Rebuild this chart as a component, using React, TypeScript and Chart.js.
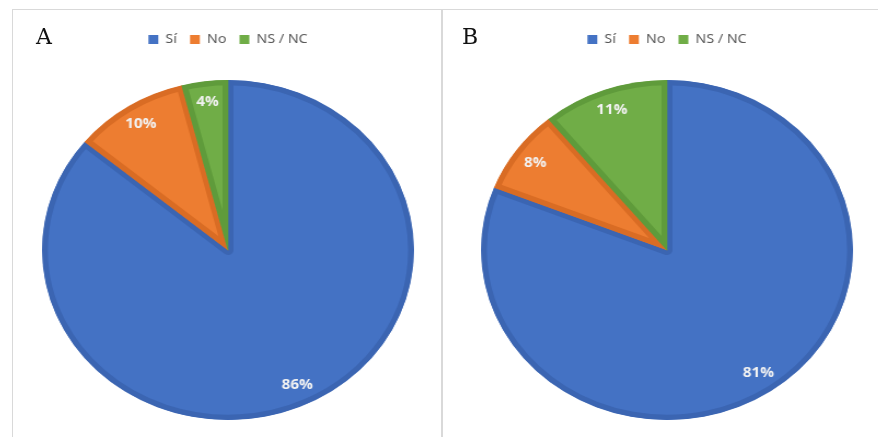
import React, { useEffect, useRef } from "react";
import { Chart, registerables } from "chart.js";

Chart.register(...registerables);

const categories = ["Sí", "No", "NS / NC"];
const valuesA = [86, 10, 4];
const valuesB = [81, 8, 11];
const panelLetters = ["A", "B"];
const fillColors = ["#4472C4", "#ED7D31", "#70AD47"];
const borderColors = ["#3B65B2", "#D96C24", "#5F9B3B"];

const CANVAS_W = 380;
const CANVAS_H = 460;
const STRETCH = 1.094;

const labelPlugin = {
  id: "pctLabels",
  afterDatasetsDraw(chart: any) {
    const ctx = chart.ctx;
    const meta = chart.getDatasetMeta(0);
    const data = chart.data.datasets[0].data as number[];
    ctx.save();
    ctx.font = "bold 14px 'Open Sans', sans-serif";
    ctx.fillStyle = "#F2F2F2";
    ctx.textAlign = "center";
    ctx.textBaseline = "middle";
    meta.data.forEach((arc: any, i: number) => {
      const p = arc.getProps(["x", "y", "startAngle", "endAngle", "outerRadius"], true);
      const mid = (p.startAngle + p.endAngle) / 2;
      const r = p.outerRadius * 0.875;
      ctx.fillText(data[i] + "%", p.x + Math.cos(mid) * r, p.y + Math.sin(mid) * r);
    });
    ctx.restore();
  },
};

function PieChart({ values }: { values: number[] }) {
  const ref = useRef<HTMLCanvasElement | null>(null);
  useEffect(() => {
    if (!ref.current) return;
    const chart = new Chart(ref.current, {
      type: "pie",
      data: {
        labels: categories,
        datasets: [
          {
            data: values,
            backgroundColor: fillColors,
            borderColor: borderColors,
            borderWidth: 5,
            borderAlign: "inner",
            radius: 170,
          } as any,
        ],
      },
      options: {
        responsive: false,
        animation: false,
        layout: { padding: { top: 21, bottom: 16, left: 0, right: 0 } },
        plugins: {
          legend: {
            position: "top",
            labels: {
              boxWidth: 9,
              boxHeight: 9,
              padding: 12,
              color: "#595959",
              font: { size: 13, family: "'Noto Sans', sans-serif" },
              generateLabels: (chart: any) =>
                categories.map((c, i) => ({
                  text: c,
                  fillStyle: fillColors[i],
                  strokeStyle: fillColors[i],
                  lineWidth: 0,
                  fontColor: "#595959",
                  hidden: false,
                  index: i,
                })),
            },
          },
          tooltip: { enabled: false },
        },
      },
      plugins: [labelPlugin],
    });
    return () => chart.destroy();
  }, [values]);
  return <canvas ref={ref} width={CANVAS_W} height={CANVAS_H} />;
}

export default function App() {
  const panels = [
    { values: valuesA, left: 12, width: 430, pieX: 228, letterX: 36 },
    { values: valuesB, left: 442, width: 440, pieX: 666.5, letterX: 462 },
  ];
  return (
    <div
      style={{
        position: "fixed",
        left: 0,
        top: 0,
        width: 878,
        height: 437,
        overflow: "hidden",
        background: "#FFFFFF",
      }}
    >
      {panels.map((p, i) => (
        <React.Fragment key={i}>
          <div
            style={{
              position: "absolute",
              left: p.left,
              top: 9,
              width: p.width,
              height: 460,
              border: "1px solid #D9D9D9",
              boxSizing: "border-box",
            }}
          />
          <div
            style={{
              position: "absolute",
              left: p.pieX - CANVAS_W / 2,
              top: 0,
              width: CANVAS_W,
              height: CANVAS_H,
              transform: `scaleX(${STRETCH})`,
              transformOrigin: "50% 50%",
            }}
          >
            <PieChart values={p.values} />
          </div>
          <div
            style={{
              position: "absolute",
              left: p.letterX,
              top: 23,
              fontFamily: "'DejaVu Serif', serif",
              fontSize: 22,
              lineHeight: "28px",
              color: "#111",
            }}
          >
            {panelLetters[i]}
          </div>
        </React.Fragment>
      ))}
    </div>
  );
}
